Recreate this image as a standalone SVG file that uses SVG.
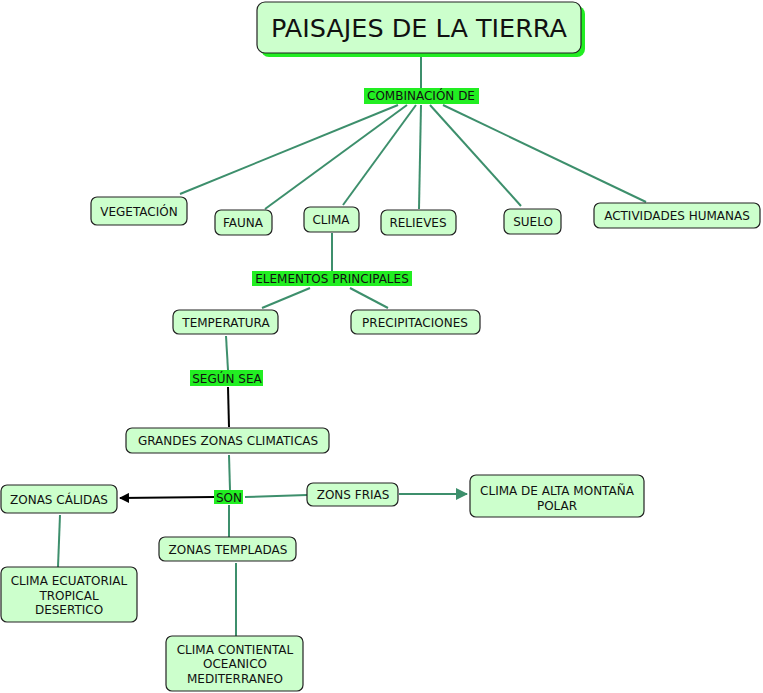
<svg xmlns="http://www.w3.org/2000/svg" width="763" height="693" viewBox="0 0 763 693">
<defs>
<style>
.n{fill:#ccffcc;stroke:#222;stroke-width:1.2}
.t{font-family:"DejaVu Sans",Verdana,sans-serif;font-size:12px;fill:#111;text-anchor:middle}
.lb{fill:#22ee22}
.c{stroke:#3d8f6c;stroke-width:2;fill:none}
.k{stroke:#000;stroke-width:2;fill:none}
</style>
<marker id="ab" markerWidth="10" markerHeight="10" refX="9" refY="5" orient="auto" markerUnits="userSpaceOnUse"><path d="M0,0 L10,5 L0,10 Z" fill="#000"/></marker>
<marker id="ag" markerWidth="12" markerHeight="12" refX="11" refY="6" orient="auto" markerUnits="userSpaceOnUse"><path d="M0,0 L12,6 L0,12 Z" fill="#3d8f6c"/></marker>
</defs>
<rect width="763" height="693" fill="#fff"/>
<g id="connectors">
<line class="c" x1="421" y1="55" x2="421" y2="88"/>
<line class="c" x1="398" y1="105" x2="180" y2="194"/>
<line class="c" x1="407" y1="105" x2="265" y2="209"/>
<line class="c" x1="416" y1="105" x2="343" y2="205"/>
<line class="c" x1="421" y1="105" x2="419" y2="209"/>
<line class="c" x1="430" y1="105" x2="521" y2="206"/>
<line class="c" x1="443" y1="105" x2="646" y2="202"/>
<line class="c" x1="332" y1="233" x2="332" y2="271"/>
<line class="c" x1="310" y1="288" x2="262" y2="308"/>
<line class="c" x1="350" y1="288" x2="388" y2="308"/>
<line class="c" x1="226" y1="336" x2="228" y2="370"/>
<line class="k" x1="228" y1="387" x2="229" y2="427"/>
<line class="c" x1="229" y1="455" x2="230" y2="490"/>
<line class="k" x1="214" y1="497" x2="120" y2="498" marker-end="url(#ab)"/>
<line class="c" x1="245" y1="497" x2="307" y2="495"/>
<line class="c" x1="399" y1="494" x2="467" y2="494" marker-end="url(#ag)"/>
<line class="c" x1="229" y1="505" x2="229" y2="537"/>
<line class="c" x1="236" y1="563" x2="236" y2="636"/>
<line class="c" x1="60" y1="515" x2="58" y2="567"/>
</g>
<g id="title">
<rect x="261" y="6" width="324" height="51" rx="8" fill="#22ee22"/>
<rect class="n" x="257" y="2" width="324" height="51" rx="8"/>
<text x="419" y="37" style="font-family:'DejaVu Sans',Verdana,sans-serif;font-size:25.5px;fill:#111;text-anchor:middle">PAISAJES DE LA TIERRA</text>
</g>
<g id="lbl-combinacion"><rect class="lb" x="364" y="88" width="115" height="16"/><text class="t" x="421" y="100">COMBINACIÓN DE</text></g>
<g id="vegetacion"><rect class="n" x="91" y="197" width="96" height="28" rx="6"/><text class="t" x="139" y="216">VEGETACIÓN</text></g>
<g id="fauna"><rect class="n" x="215" y="210" width="57" height="25" rx="6"/><text class="t" x="243" y="227">FAUNA</text></g>
<g id="clima"><rect class="n" x="304" y="207" width="55" height="25" rx="6"/><text class="t" x="331" y="224">CLIMA</text></g>
<g id="relieves"><rect class="n" x="381" y="210" width="75" height="25" rx="6"/><text class="t" x="418" y="227">RELIEVES</text></g>
<g id="suelo"><rect class="n" x="504" y="209" width="57" height="25" rx="6"/><text class="t" x="533" y="226">SUELO</text></g>
<g id="actividades"><rect class="n" x="594" y="203" width="166" height="25" rx="6"/><text class="t" x="677" y="220">ACTIVIDADES HUMANAS</text></g>
<g id="lbl-elementos"><rect class="lb" x="252" y="271" width="160" height="15"/><text class="t" x="332" y="283">ELEMENTOS PRINCIPALES</text></g>
<g id="temperatura"><rect class="n" x="173" y="310" width="105" height="24" rx="6"/><text class="t" x="226" y="327">TEMPERATURA</text></g>
<g id="precipitaciones"><rect class="n" x="351" y="310" width="129" height="24" rx="6"/><text class="t" x="415" y="327">PRECIPITACIONES</text></g>
<g id="lbl-segun"><rect class="lb" x="190" y="370" width="73" height="16"/><text class="t" x="227" y="383">SEGÚN SEA</text></g>
<g id="grandes"><rect class="n" x="126" y="428" width="203" height="25" rx="6"/><text class="t" x="228" y="445">GRANDES ZONAS CLIMATICAS</text></g>
<g id="lbl-son"><rect class="lb" x="214" y="490" width="29" height="14"/><text class="t" x="229" y="502">SON</text></g>
<g id="calidas"><rect class="n" x="1" y="485" width="116" height="28" rx="6"/><text class="t" x="59" y="504">ZONAS CÁLIDAS</text></g>
<g id="frias"><rect class="n" x="307" y="483" width="91" height="23" rx="6"/><text class="t" x="353" y="499">ZONS FRIAS</text></g>
<g id="alta"><rect class="n" x="470" y="475" width="174" height="42" rx="6"/><text class="t" x="557" y="495">CLIMA DE ALTA MONTAÑA</text><text class="t" x="557" y="510">POLAR</text></g>
<g id="templadas"><rect class="n" x="159" y="537" width="137" height="24" rx="6"/><text class="t" x="228" y="554">ZONAS TEMPLADAS</text></g>
<g id="ecuatorial"><rect class="n" x="1" y="567" width="136" height="55" rx="6"/><text class="t" x="69" y="585">CLIMA ECUATORIAL</text><text class="t" x="69" y="600">TROPICAL</text><text class="t" x="69" y="614">DESERTICO</text></g>
<g id="continental"><rect class="n" x="166" y="636" width="137" height="55" rx="6"/><text class="t" x="235" y="654">CLIMA CONTIENTAL</text><text class="t" x="235" y="668">OCEANICO</text><text class="t" x="235" y="683">MEDITERRANEO</text></g>
</svg>
